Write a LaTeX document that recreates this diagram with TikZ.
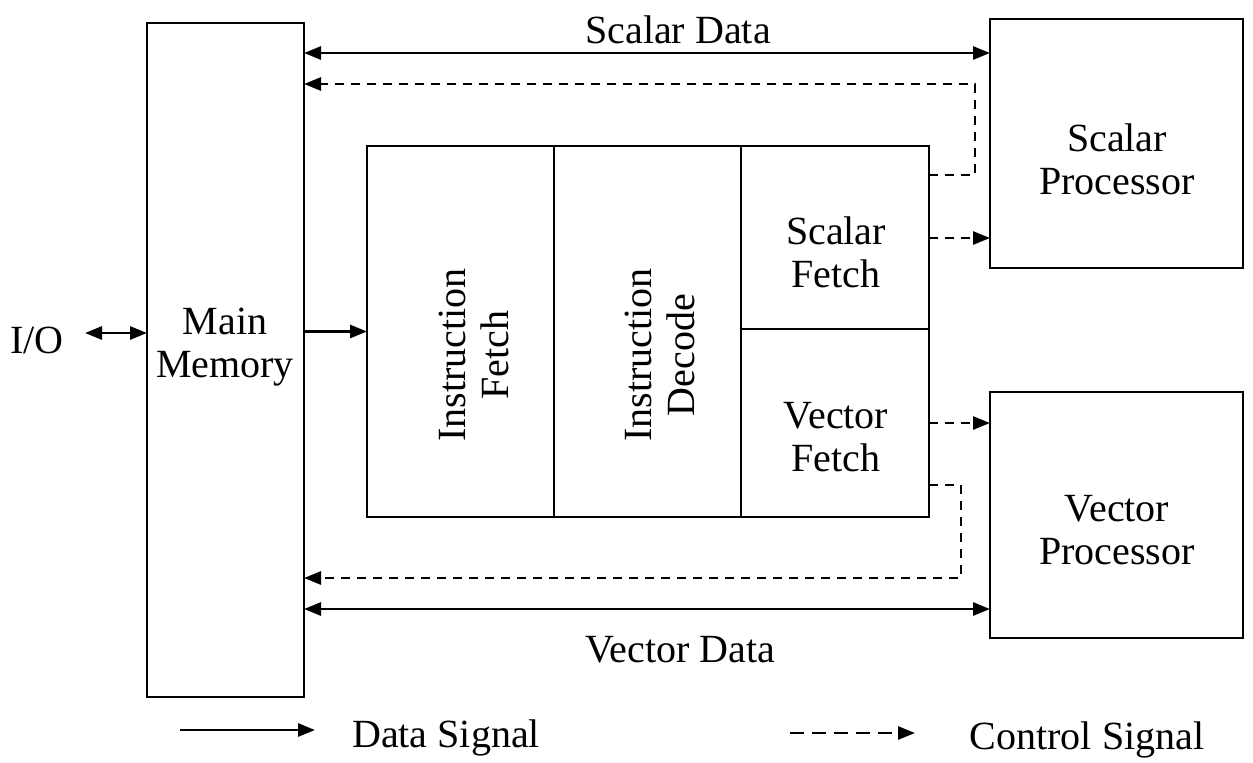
\documentclass[tikz,border=0pt]{standalone}
\usepackage{fontspec}
\setmainfont{Liberation Serif}
\usetikzlibrary{arrows.meta}
\begin{document}
\begin{tikzpicture}[x=0.5pt,y=-0.5pt,
  font=\fontsize{20}{21.5}\selectfont,
  box/.style={draw,line width=1.4pt,inner sep=0pt,outer sep=0pt},
  lbl/.style={align=center,inner sep=0pt},
  tip/.style={},
  data/.style={line width=1.4pt,-{Triangle[length=8.5pt,width=6.5pt]}},
  bidata/.style={line width=1.4pt,{Triangle[length=8.5pt,width=6.5pt]}-{Triangle[length=8.5pt,width=6.5pt]}},
  ctrl/.style={line width=1.4pt,dash pattern=on 4.5pt off 3.5pt,-{Triangle[length=8.5pt,width=6.5pt]}}]
\useasboundingbox (0,0) rectangle (1253,762);

% blocks
\node[box,minimum width=78.5pt,minimum height=337pt] (mm) at (225.5,360) {};
\node[box,minimum width=93.5pt,minimum height=185.5pt] (ifetch) at (460.5,331.5) {};
\node[box,minimum width=93.5pt,minimum height=185.5pt] (idec) at (647.5,331.5) {};
\node[box,minimum width=94pt,minimum height=91.5pt] (sfetch) at (835,237.5) {};
\node[box,minimum width=94pt,minimum height=94pt] (vfetch) at (835,423) {};
\node[box,minimum width=126.5pt,minimum height=124.5pt] (sp) at (1116.5,143.5) {};
\node[box,minimum width=126.5pt,minimum height=123pt] (vp) at (1116.5,515) {};

% block labels
\node[lbl] (mmtext) at (225,347) {Main\\Memory};
\node[lbl,rotate=90] (iftext) at (474,355) {Instruction\\Fetch};
\node[lbl,rotate=90] (idtext) at (660,355) {Instruction\\Decode};
\node[lbl] (sftext) at (836,252) {Scalar\\Fetch};
\node[lbl] (vftext) at (836,437) {Vector\\Fetch};
\node[lbl] (sptext) at (1117,159) {Scalar\\Processor};
\node[lbl] (vptext) at (1117,530) {Vector\\Processor};
\node[lbl] (io) at (37,340) {I/O};
\node[lbl] (sdata) at (678,30) {Scalar Data};
\node[lbl] (vdata) at (680,650) {Vector Data};

% routing points
\coordinate (iotail) at (85,333);
\coordinate (sdy) at (0,53);
\coordinate (scy) at (0,84);
\coordinate (vcy) at (0,578);
\coordinate (vdy) at (0,609);
\coordinate (sfout) at (0,175);
\coordinate (sfsp) at (0,238);
\coordinate (vfvp) at (0,423);
\coordinate (vfout) at (0,485);

% data paths
\draw[bidata] (iotail) -- (iotail -| mm.west);
\draw[data] (ifetch.west -| mm.east) -- (ifetch.west);
\draw[bidata] (sdy -| mm.east) -- (sdy -| sp.west);
\draw[bidata] (vdy -| mm.east) -- (vdy -| vp.west);

% control paths
\draw[ctrl] (sfout -| sfetch.east) -- (975,175) -- (975,84) -- (scy -| mm.east);
\draw[ctrl] (sfsp -| sfetch.east) -- (sfsp -| sp.west);
\draw[ctrl] (vfvp -| vfetch.east) -- (vfvp -| vp.west);
\draw[ctrl] (vfout -| vfetch.east) -- (961,485) -- (961,578) -- (vcy -| mm.east);

% legend
\coordinate (ldata0) at (180,730);
\coordinate (ldata1) at (315,730);
\coordinate (lctrl0) at (790,733);
\coordinate (lctrl1) at (915,733);
\draw[data] (ldata0) -- (ldata1);
\draw[ctrl,dash pattern=on 7pt off 4pt] (lctrl0) -- (lctrl1);
\node[lbl] (ldatatext) at (446,738) {Data Signal};
\node[lbl] (lctrltext) at (1087,740) {Control Signal};
\end{tikzpicture}
\end{document}
